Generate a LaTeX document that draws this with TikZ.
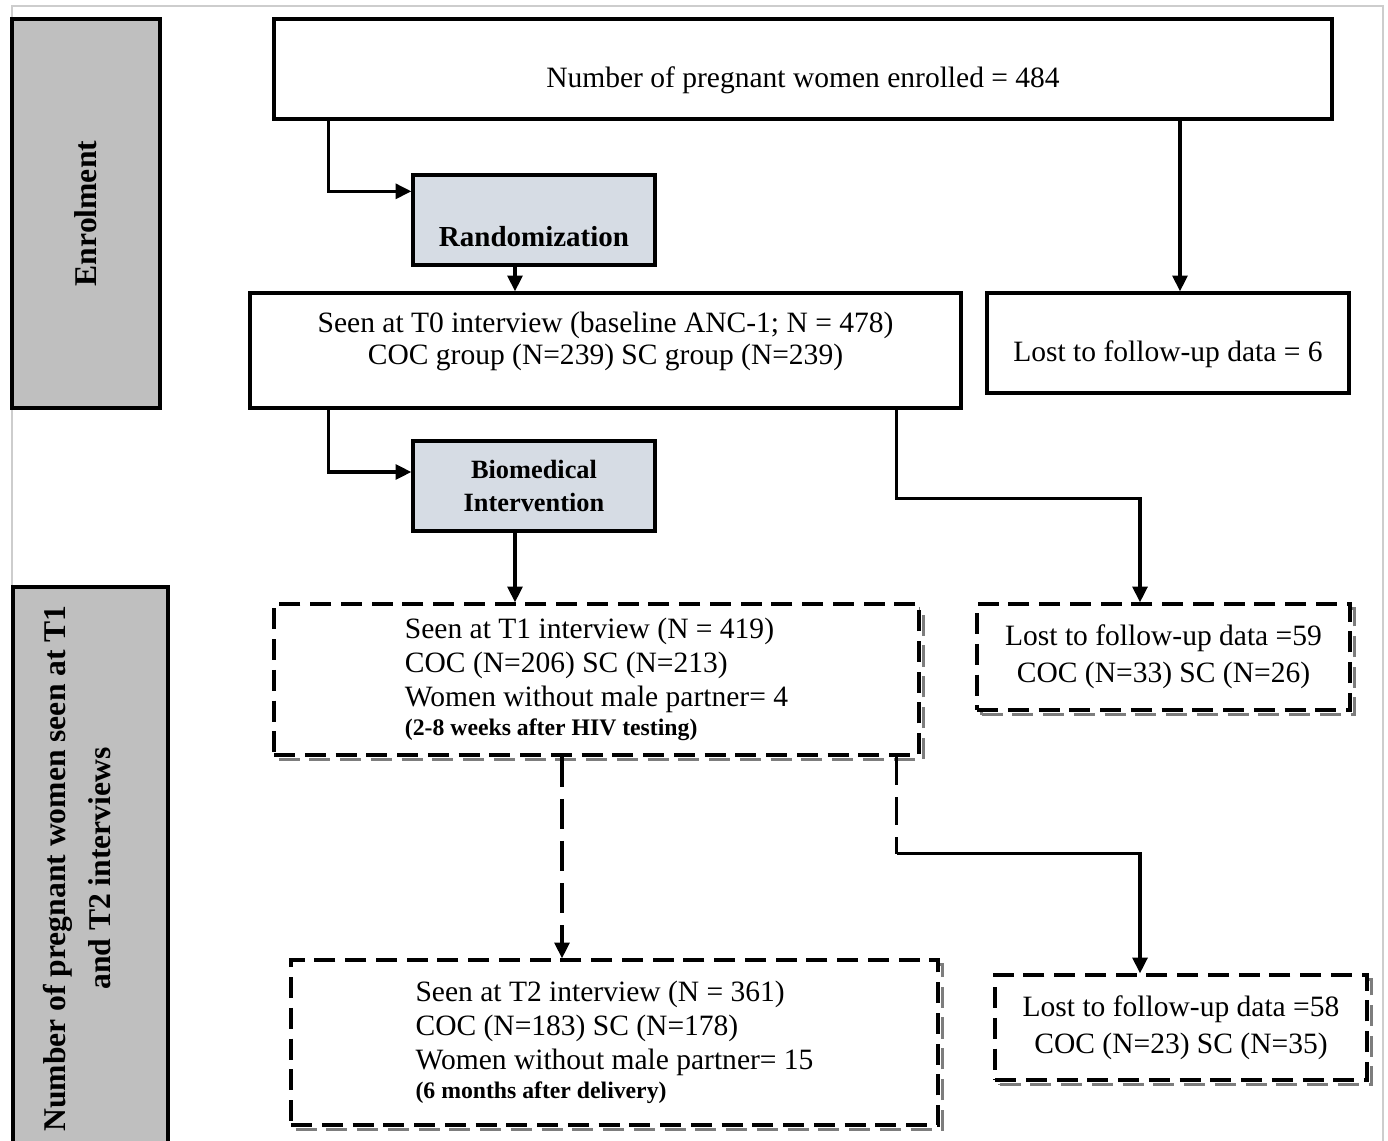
\documentclass[tikz,border=0pt]{standalone}
\usepackage{fontspec}
\setmainfont{Liberation Serif}
\usetikzlibrary{arrows.meta}

\definecolor{sidegray}{RGB}{191,191,191}
\definecolor{stepblue}{RGB}{214,220,228}
\definecolor{framegray}{RGB}{205,205,205}
\definecolor{shadegray}{RGB}{125,125,125}

\begin{document}
\begin{tikzpicture}[x=0.02cm, y=-0.02cm,
    box/.style={draw, line width=1.9pt, inner sep=0pt, fill=white,
        font=\fontsize{16.8}{19.3}\selectfont},
    sidebox/.style={box, fill=sidegray, rotate=90, align=center,
        font=\fontsize{18}{25.5}\selectfont\bfseries},
    stepbox/.style={box, fill=stepblue, align=center,
        minimum width=4.84cm, minimum height=1.8cm},
    dashbox/.style={box, dash pattern=on 12pt off 5.5pt,
        preaction={draw=shadegray, fill=none, dash pattern=on 12pt off 5.5pt,
            transform canvas={shift={(2.6pt,-2.6pt)}}}},
    arr/.style={line width=1.9pt, -{Triangle[length=9pt,width=8.5pt]}},
    dasharr/.style={arr, dash pattern=on 17pt off 7pt}
]

\clip (0,0) rectangle (1388,1141);

%draw outer frame
\draw[framegray, line width=0.6pt] (12,6) rectangle (1383,1170);

%draw side headings
\node[sidebox, minimum width=7.78cm, minimum height=2.96cm] (enrol) at (86,213.5) {Enrolment};
\node[sidebox, minimum width=11.26cm, minimum height=3.1cm, text height=27.7pt, text depth=5pt] (seen) at (90.5,868.5)
    {Number of pregnant women seen at T1\\and T2 interviews};

%draw enrolment boxes
\node[box, minimum width=21.16cm, minimum height=2cm, text height=25.4pt, text depth=4pt] (top) at (803,69)
    {Number of pregnant women enrolled = 484};
\node[stepbox, font=\fontsize{16.5}{19}\selectfont\bfseries, text height=34.2pt, text depth=4pt] (rand) at (534,220) {Randomization};
\node[box, minimum width=7.24cm, minimum height=2cm, text height=25.2pt, text depth=4pt] (lost0) at (1168,343)
    {Lost to follow-up data = 6};
\node[box, align=center, minimum width=14.22cm, minimum height=2.3cm, font=\fontsize{16.8}{18}\selectfont,
    text height=20pt, text depth=4pt] (t0) at (605.5,350.5)
    {Seen at T0 interview (baseline ANC-1; N = 478)\\COC group (N=239) SC group (N=239)};
\node[stepbox, font=\fontsize{15}{18.7}\selectfont\bfseries] (bio) at (534,486) {Biomedical\\Intervention};

%draw interview boxes
\node[dashbox, align=left, minimum width=12.9cm, minimum height=3.02cm] (t1) at (596.5,679.5)
    {Seen at T1 interview (N = 419)\\COC (N=206) SC (N=213)\\Women without male partner= 4\\[-3pt]
    {\fontsize{13.5}{16}\selectfont\bfseries (2-8 weeks after HIV testing)}};
\node[dashbox, align=center, minimum width=7.46cm, minimum height=2.12cm, font=\fontsize{16.8}{21}\selectfont] (lostA) at (1163.5,657)
    {Lost to follow-up data =59\\COC (N=33) SC (N=26)};
\node[dashbox, align=left, minimum width=12.94cm, minimum height=3.3cm] (t2) at (614.5,1042.5)
    {Seen at T2 interview (N = 361)\\COC (N=183) SC (N=178)\\Women without male partner= 15\\[-3pt]
    {\fontsize{13.5}{16}\selectfont\bfseries (6 months after delivery)}};
\node[dashbox, align=center, minimum width=7.44cm, minimum height=2.1cm, font=\fontsize{16.8}{21}\selectfont] (lostB) at (1181,1027.5)
    {Lost to follow-up data =58\\COC (N=23) SC (N=35)};

%draw connectors
\draw[arr] ([xshift=1.12cm]top.south west) |- ([yshift=-0.36cm]rand.north west);
\draw[arr] ([xshift=0.24cm]lost0.north |- top.south) -- ([xshift=0.24cm]lost0.north);
\draw[arr] ([xshift=-0.38cm]rand.south) -- ([xshift=-0.38cm]rand.south |- t0.north);
\draw[arr] ([xshift=1.6cm]t0.south west) |- ([yshift=0.28cm]bio.west);
\draw[arr] ([xshift=-0.38cm]bio.south) -- ([xshift=-0.38cm]bio.south |- t1.north);
\coordinate (bendA) at ([xshift=-1.32cm,yshift=-1.78cm]t0.south east);
\draw[arr] ([xshift=-1.32cm]t0.south east) -- (bendA) -| ([xshift=-0.47cm]lostA.north);
\draw[dasharr] ([xshift=-0.69cm]t1.south) -- ([xshift=-0.69cm]t1.south |- t2.north);
\coordinate (bendB) at ([xshift=-0.48cm,yshift=-1.94cm]t1.south east);
\draw[line width=1.9pt, dash pattern=on 16pt off 7pt] ([xshift=-0.48cm]t1.south east) -- (bendB);
\draw[arr] (bendB) -| ([xshift=-0.82cm]lostB.north);

\end{tikzpicture}
\end{document}
